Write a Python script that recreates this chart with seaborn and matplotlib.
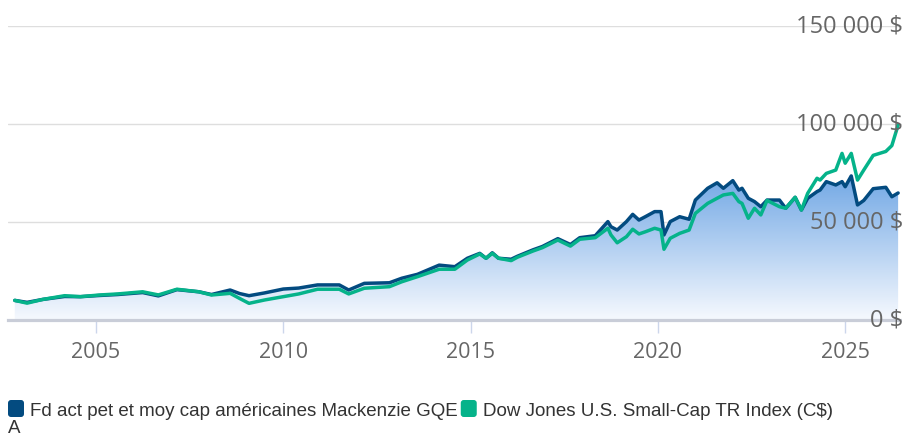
import numpy as np
import pandas as pd
import matplotlib
matplotlib.use("Agg")
import matplotlib.pyplot as plt
import matplotlib.dates as mdates
from matplotlib.patches import FancyBboxPatch
from matplotlib.transforms import IdentityTransform, offset_copy
import seaborn as sns

# ---------------- data ----------------
dates = ["2002-11", "2003-03", "2003-08", "2004-03", "2004-08", "2005-02", "2005-08", "2006-04",
         "2006-09", "2007-03", "2007-10", "2008-02", "2008-08", "2008-11", "2009-02", "2009-07",
         "2010-01", "2010-06", "2010-12", "2011-07", "2011-10", "2012-03", "2012-11", "2013-03",
         "2013-08", "2014-03", "2014-08", "2014-12", "2015-04", "2015-06", "2015-08", "2015-10",
         "2016-02", "2016-04", "2016-09", "2016-12", "2017-05", "2017-09", "2017-12", "2018-05",
         "2018-09", "2018-10", "2018-12", "2019-03", "2019-05", "2019-07", "2019-09", "2019-12",
         "2020-02", "2020-03", "2020-05", "2020-08", "2020-11", "2021-01", "2021-05", "2021-08",
         "2021-10", "2022-01", "2022-03", "2022-04", "2022-06", "2022-08", "2022-10", "2022-12",
         "2023-04", "2023-06", "2023-09", "2023-11", "2024-01", "2024-04", "2024-05", "2024-07",
         "2024-10", "2024-12", "2025-01", "2025-03", "2025-05", "2025-07", "2025-10", "2026-02",
         "2026-04", "2026-06"]

fund = [10000, 9000, 10500, 12000, 11900, 12500, 13000, 14000, 12300, 15500,
        14400, 13000, 15300, 13500, 12400, 13800, 15800, 16300, 17900, 17900,
        15300, 18700, 19000, 21300, 23300, 28000, 27200, 31500, 34000, 31500,
        34300, 31500, 31000, 32500, 35800, 37500, 41500, 38500, 42000, 43000,
        50200, 47600, 45900, 50200, 53900, 51000, 52700, 55300, 55300, 43400,
        50200, 52700, 51400, 61200, 67200, 70000, 67200, 71100, 66300, 67200,
        62100, 60400, 57800, 61200, 61200, 57000, 62600, 56100, 62100, 65500,
        66300, 70600, 68900, 70600, 68000, 73500, 58700, 61000, 67000, 67700,
        62900, 64800]

index_vals = [10000, 8600, 10500, 12400, 11900, 12750, 13300, 14400, 12800, 15700,
              14400, 12750, 13600, 11000, 8500, 10200, 11900, 13300, 15700, 15700,
              13300, 16200, 17000, 19500, 22100, 25900, 25900, 30600, 33700, 31500,
              34000, 31500, 30300, 32000, 35200, 36900, 40800, 37700, 41200, 42000,
              46800, 43400, 39400, 42500, 46300, 43900, 45000, 46800, 45900, 36100,
              41700, 44200, 45900, 54400, 59500, 62100, 63800, 64600, 60400, 59500,
              51900, 57000, 53600, 61000, 57800, 57000, 62600, 56100, 64600, 72300,
              71400, 74800, 76500, 85000, 80000, 85000, 71400, 76500, 84000, 86000,
              89000, 99500]

series_names = ["Fd act pet et moy cap américaines Mackenzie GQE",
                "Dow Jones U.S. Small-Cap TR Index (C$)"]
legend_wrap = "A"
x_tick_years = [2005, 2010, 2015, 2020, 2025]
y_ticks = [0, 50000, 100000, 150000]
y_tick_labels = ["0 $", "50 000 $", "100 000 $", "150 000 $"]

BLUE = "#034b80"
GREEN = "#05b38a"

# ---------------- frame ----------------
sns.set_theme(style="white")
plt.rcParams["font.family"] = ["Open Sans", "DejaVu Sans"]

W, H = 903, 438
fig = plt.figure(figsize=(W / 100, H / 100), dpi=100)
ax = fig.add_axes([8 / W, (H - 320) / H, (W - 8) / W, 294 / H])

dt = pd.to_datetime(dates)
df = pd.DataFrame({"date": list(dt) * 2,
                   "value": fund + index_vals,
                   "series": [series_names[0]] * len(dt) + [series_names[1]] * len(dt)})

# x limits (pixel 8 -> 903, with 2005 tick at 96 and 37.46 px / year)
t2005 = pd.Timestamp("2005-01-01")
px_year = 37.46
xmin = t2005 - pd.Timedelta(days=(96 - 8) / px_year * 365.25)
xmax = t2005 + pd.Timedelta(days=(903 - 96) / px_year * 365.25)

# gradient area under fund
x0n, x1n = mdates.date2num(xmin), mdates.date2num(xmax)
top_val = max(fund)
g = np.linspace(0, 1, 256).reshape(-1, 1, 1)
c_top = np.array([114, 168, 229]) / 255
c_bot = np.array([246, 249, 254]) / 255
img = c_top + (c_bot - c_top) * g
poly = ax.fill_between(dt, fund, 0, facecolor="none", edgecolor="none")
im = ax.imshow(img, extent=[x0n, x1n, 0, top_val], aspect="auto", origin="upper", zorder=1)
im.set_clip_path(poly.get_paths()[0], transform=ax.transData)

sns.lineplot(data=df, x="date", y="value", hue="series",
             palette=[BLUE, GREEN], linewidth=2.5, legend=False, ax=ax, zorder=3)

ax.set_xlim(xmin, xmax)
ax.set_ylim(0, 150000)

# grid + axis
ax.set_yticks(y_ticks)
ax.yaxis.grid(True, color="#dedede", linewidth=1.0)
ax.xaxis.grid(False)
ax.tick_params(axis="y", left=False, right=False, labelleft=False)
for s in ["top", "right", "left"]:
    ax.spines[s].set_visible(False)
ax.spines["bottom"].set_color("#c9cdd8")
ax.spines["bottom"].set_linewidth(2.3)
ax.spines["bottom"].set_zorder(4)

ax.set_xticks([pd.Timestamp(f"{y}-01-01") for y in x_tick_years])
ax.set_xticklabels([str(y) for y in x_tick_years])
ax.tick_params(axis="x", bottom=True, direction="out", length=9, width=1.0,
               color="#ccd6eb", pad=7, labelsize=15.5, labelcolor="#666666")
for lab in ax.get_xticklabels():
    lab.set_family(["Open Sans", "DejaVu Sans"])
ax.set_xlabel("")
ax.set_ylabel("")

# y labels inside the plot at right
for v, t in zip(y_ticks, y_tick_labels):
    ax.text(1.0, v, t, transform=offset_copy(ax.get_yaxis_transform(), fig=fig, x=0, y=-1, units="dots"),
            ha="right", va="center", fontsize=17, color="#666666",
            family=["Open Sans", "DejaVu Sans"], zorder=5)

# ---------------- legend ----------------
leg_font = ["Liberation Sans", "DejaVu Sans"]
leg_size = 13.5
base_y = H - 415.5
fig.patches.append(FancyBboxPatch((8, H - 417), 16, 17, boxstyle="round,pad=0,rounding_size=3",
                                  transform=IdentityTransform(), facecolor=BLUE, edgecolor="none"))
t1 = fig.text(30 / W, base_y / H, series_names[0], fontsize=leg_size, color="#333333",
              family=leg_font, va="baseline", ha="left")
fig.canvas.draw()
bb = t1.get_window_extent()
gx = bb.x1 + 3
fig.patches.append(FancyBboxPatch((gx, H - 417), 16, 17, boxstyle="round,pad=0,rounding_size=3",
                                  transform=IdentityTransform(), facecolor=GREEN, edgecolor="none"))
fig.text((gx + 22) / W, base_y / H, series_names[1], fontsize=leg_size, color="#333333",
         family=leg_font, va="baseline", ha="left")
fig.text(8 / W, (H - 433) / H, legend_wrap, fontsize=leg_size, color="#333333",
         family=leg_font, va="baseline", ha="left")

fig.savefig("out.png", dpi=100)
